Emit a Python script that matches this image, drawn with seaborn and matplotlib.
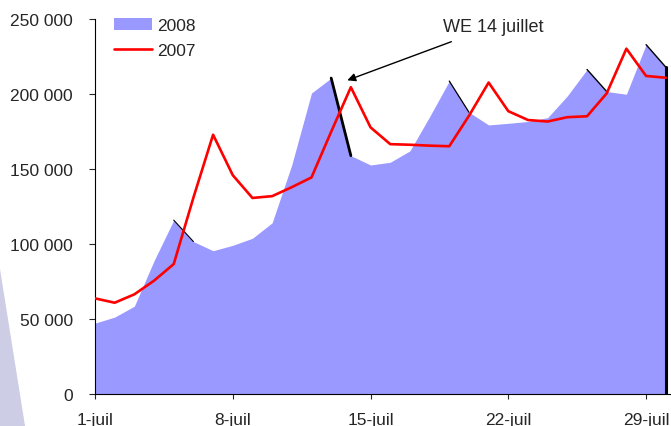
import numpy as np
import matplotlib
matplotlib.use("Agg")
import matplotlib.pyplot as plt
from matplotlib.patches import Patch, Polygon
from matplotlib.lines import Line2D
import seaborn as sb
import pandas as pd

# donnees (fréquentation journaliere, juillet)
jours = np.arange(30)
ventes_2008 = [47300, 51300, 58600, 88900, 116000, 101700, 95600, 99200, 103900, 114200,
               153000, 200800, 210800, 159000, 152800, 154600, 162200, 185000, 208800, 188000,
               179500, 180600, 181800, 184400, 198900, 216500, 201800, 200000, 233100, 218100]
ventes_2007 = [63800, 60900, 66500, 75600, 86700, 131000, 173000, 146000, 130800, 132000,
               138000, 144500, 175000, 204700, 177900, 166700, 166300, 165700, 165300, 185600,
               207800, 188700, 182800, 181800, 184700, 185300, 200600, 230400, 212200, 211000]
# segments descendants soulignés en noir (debut, epaisseur)
aretes = [(4, 0.8), (12, 2.0), (18, 0.9), (25, 1.0), (28, 1.0)]

xticks = [0, 7, 14, 21, 28]
xlabels = ["1-juil", "8-juil", "15-juil", "22-juil", "29-juil"]
yticks = [0, 50000, 100000, 150000, 200000, 250000]
ylabels = ["0", "50 000", "100 000", "150 000", "200 000", "250 000"]

df = pd.DataFrame({"jour": jours, "2008": ventes_2008, "2007": ventes_2007})

sb.set_style("white")
plt.rcParams["font.family"] = ["Liberation Sans", "DejaVu Sans"]

fig = plt.figure(figsize=(6.71, 4.27), dpi=100)
ax = fig.add_axes([95 / 671, 32 / 427, 574.7 / 671, 374.7 / 427])

# fond decoratif en bas a gauche
fig.patches.append(Polygon([(0, 0.3677), (0.0373, 0), (0, 0)], closed=True,
                           transform=fig.transFigure, facecolor="#cdcde6",
                           edgecolor="none", zorder=0))

c_aire = "#9999ff"
ax.fill_between(df["jour"], 0, df["2008"], color=c_aire, linewidth=0, zorder=1)
for i, lw in aretes:
    ax.plot(df["jour"][i:i + 2], df["2008"][i:i + 2], color="black", lw=lw, zorder=2)
ax.plot([df["jour"].iloc[-1]] * 2, [0, df["2008"].iloc[-1]], color="black", lw=2.2, zorder=2)

sb.lineplot(data=df, x="jour", y="2007", color="#ff0000", lw=1.9, ax=ax, zorder=3)

ax.set_xlim(0, 29.2)
ax.set_ylim(0, 250000)
ax.set_xticks(xticks)
ax.set_xticklabels(xlabels)
ax.set_yticks(yticks)
ax.set_yticklabels(ylabels)
ax.set_xlabel("")
ax.set_ylabel("")
ax.tick_params(axis="y", direction="out", length=4.3, width=0.8, pad=11.5,
               labelsize=12.5, left=True)
ax.tick_params(axis="x", direction="out", length=3.6, width=0.8, pad=9.5,
               labelsize=12.5, bottom=True)
for s in ["top", "right"]:
    ax.spines[s].set_visible(False)
for s in ["left", "bottom"]:
    ax.spines[s].set_color("black")
    ax.spines[s].set_linewidth(0.8)
ax.patch.set_alpha(0)

handles = [Patch(facecolor=c_aire, edgecolor="none"),
           Line2D([0], [0], color="#ff0000", lw=1.9)]
ax.legend(handles, ["2008", "2007"], loc="upper left", bbox_to_anchor=(0.033, 1.004),
          frameon=False, fontsize=12.5, handlelength=2.2, handletextpad=0.3,
          labelspacing=0.55, borderpad=0, borderaxespad=0)

ax.annotate("WE 14 juillet", xy=(12.82, 209300), xytext=(20.25, 245500),
            ha="center", va="center", fontsize=13,
            arrowprops=dict(arrowstyle="-|>", color="black", lw=1.0,
                            shrinkA=8, shrinkB=0, mutation_scale=12))

fig.savefig("out.png", dpi=100)
